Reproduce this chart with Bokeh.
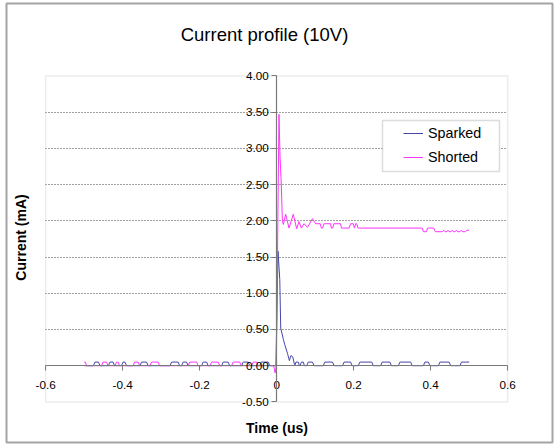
import math
from bokeh.plotting import figure
from bokeh.models import (Range1d, FixedTicker, Legend, LegendItem, Label,
                          BoxAnnotation, ColumnDataSource, CustomJSTickFormatter,
                          PrintfTickFormatter)
from bokeh.embed import file_html
from bokeh.resources import INLINE

# ---- data (time in us, current in mA) ----
sparked_t = [-0.500,
             -0.476, -0.472, -0.463, -0.459,
             -0.437, -0.433, -0.425, -0.421,
             -0.403, -0.399, -0.394, -0.390,
             -0.355, -0.351, -0.338, -0.334,
             -0.277, -0.273, -0.256, -0.252,
             -0.247, -0.243, -0.234, -0.230,
             -0.195, -0.191, -0.182, -0.178,
             -0.143, -0.139, -0.126, -0.122,
             -0.091, -0.087, -0.074, -0.070,
             -0.044, -0.040, -0.022, -0.018,
             -0.002, 0.000, 0.0035, 0.008, 0.0105, 0.0175, 0.021, 0.028,
             0.033, 0.037, 0.042, 0.046,
             0.047, 0.050, 0.056, 0.059,
             0.061, 0.064, 0.069, 0.072,
             0.078, 0.082, 0.093, 0.097,
             0.121, 0.125, 0.145, 0.149,
             0.171, 0.175, 0.192, 0.196,
             0.212, 0.216, 0.247, 0.251,
             0.270, 0.274, 0.294, 0.298,
             0.316, 0.320, 0.348, 0.352,
             0.381, 0.385, 0.394, 0.398,
             0.420, 0.424, 0.448, 0.452,
             0.476, 0.480, 0.500]
sparked_i = [0.00,
             0.00, 0.05, 0.05, 0.00,
             0.00, 0.05, 0.05, 0.00,
             0.00, 0.05, 0.05, 0.00,
             0.00, 0.05, 0.05, 0.00,
             0.00, 0.05, 0.05, 0.00,
             0.00, 0.05, 0.05, 0.00,
             0.00, 0.05, 0.05, 0.00,
             0.00, 0.05, 0.05, 0.00,
             0.00, 0.05, 0.05, 0.00,
             0.00, 0.05, 0.05, 0.00,
             0.00, 0.55, 1.58, 1.19, 0.52, 0.36, 0.29, 0.17,
             0.07, 0.14, 0.12, 0.02,
             0.00, 0.05, 0.05, 0.00,
             0.00, 0.05, 0.05, 0.00,
             0.00, 0.05, 0.05, 0.00,
             0.00, 0.05, 0.05, 0.00,
             0.00, 0.05, 0.05, 0.00,
             0.00, 0.05, 0.05, 0.00,
             0.00, 0.05, 0.05, 0.00,
             0.00, 0.05, 0.05, 0.00,
             0.00, 0.05, 0.05, 0.00,
             0.00, 0.05, 0.05, 0.00,
             0.00, 0.05, 0.05]

shorted_t = [-0.500, -0.497, -0.494,
             -0.455, -0.451, -0.442, -0.438,
             -0.420, -0.416, -0.412, -0.408,
             -0.373, -0.369, -0.360, -0.356,
             -0.329, -0.325, -0.308, -0.304,
             -0.230, -0.226, -0.208, -0.204,
             -0.173, -0.169, -0.152, -0.148,
             -0.117, -0.113, -0.096, -0.092,
             -0.065, -0.061, -0.052, -0.048,
             -0.008, -0.004, -0.001, 0.006, 0.0086, 0.012, 0.0148,
             0.0174, 0.0234, 0.032, 0.043, 0.052, 0.058, 0.064, 0.071,
             0.080, 0.093, 0.101, 0.113, 0.116, 0.119, 0.123, 0.140,
             0.142, 0.145, 0.149, 0.166, 0.168, 0.188, 0.192, 0.199,
             0.202, 0.205, 0.208, 0.211, 0.378, 0.381, 0.389, 0.392,
             0.408, 0.412, 0.430, 0.434, 0.437, 0.442, 0.445, 0.448,
             0.453, 0.456, 0.459, 0.464, 0.467, 0.470, 0.476, 0.479,
             0.482, 0.490, 0.494, 0.500]
shorted_i = [0.05, 0.05, 0.00,
             0.00, 0.05, 0.05, 0.00,
             0.00, 0.05, 0.05, 0.00,
             0.00, 0.05, 0.05, 0.00,
             0.00, 0.05, 0.05, 0.00,
             0.00, 0.05, 0.05, 0.00,
             0.00, 0.05, 0.05, 0.00,
             0.00, 0.05, 0.05, 0.00,
             0.00, 0.05, 0.05, 0.00,
             0.00, -0.10, 0.00, 3.47, 2.89, 2.50, 1.99,
             1.95, 2.09, 1.90, 2.09, 1.89, 1.99, 1.90, 1.96,
             1.91, 2.03, 1.96, 1.96, 1.90, 1.90, 1.96, 1.96,
             1.90, 1.90, 1.96, 1.96, 1.90, 1.90, 1.96, 1.96,
             1.90, 1.96, 1.96, 1.90, 1.90, 1.85, 1.85, 1.90,
             1.90, 1.85, 1.85, 1.87, 1.85, 1.85, 1.87, 1.85,
             1.85, 1.87, 1.85, 1.85, 1.87, 1.85, 1.85, 1.87,
             1.85, 1.85, 1.87, 1.87]

x_min, x_max = -0.6, 0.6
y_min, y_max = -0.5, 4.0
x_ticks = [-0.6, -0.4, -0.2, 0.0, 0.2, 0.4, 0.6]
y_ticks = [-0.5, 0.0, 0.5, 1.0, 1.5, 2.0, 2.5, 3.0, 3.5, 4.0]
grid_ticks = [0.5, 1.0, 1.5, 2.0, 2.5, 3.0, 3.5]

title_text = "Current profile (10V)"
x_title = "Time (us)"
y_title = "Current (mA)"
series_names = ["Sparked", "Shorted"]

FONT = "Liberation Sans"

# The frame spans the whole chart area; its outline is the chart border.
p = figure(title=None, frame_width=546, frame_height=439,
           min_border_left=6, min_border_right=3,
           min_border_top=3, min_border_bottom=2,
           x_range=Range1d(-0.7018, 0.7164), y_range=Range1d(-1.06, 5.0),
           output_backend="svg", toolbar_location=None,
           background_fill_color="white", border_fill_color="white")

p.outline_line_color = "#a4a4a4"
p.outline_line_width = 2

# plot-area border
p.add_layout(BoxAnnotation(left=x_min, right=x_max, bottom=y_min, top=y_max,
                           fill_alpha=0, line_color="#c4c4c4", line_width=1.5,
                           level="underlay"))

# axes crossing at zero
for ax in (p.xaxis[0], p.yaxis[0]):
    ax.fixed_location = 0
    ax.axis_line_color = "#7a7a7a"
    ax.axis_line_width = 1.2
    ax.major_tick_line_color = "#7a7a7a"
    ax.major_tick_out = 5
    ax.major_tick_in = 0
    ax.minor_tick_line_color = None
    ax.major_label_text_font = FONT
    ax.major_label_text_font_size = "11.7px"
    ax.major_label_text_color = "black"

p.xaxis[0].ticker = FixedTicker(ticks=x_ticks)
p.xaxis[0].bounds = (x_min, x_max)
p.xaxis[0].formatter = CustomJSTickFormatter(
    code="return Math.abs(tick) < 1e-9 ? '0' : tick.toFixed(1)")
p.xaxis[0].major_label_standoff = 10

p.yaxis[0].ticker = FixedTicker(ticks=y_ticks)
p.yaxis[0].bounds = (y_min, y_max)
p.yaxis[0].formatter = PrintfTickFormatter(format="%.2f")
p.yaxis[0].major_label_standoff = 3

p.xgrid.visible = False
p.ygrid.ticker = FixedTicker(ticks=grid_ticks)
p.ygrid.grid_line_color = "#404040"
p.ygrid.grid_line_dash = "1 2"
p.ygrid.grid_line_width = 1
try:
    p.ygrid.cross_bounds = (x_min, x_max)
except Exception:
    pass

# titles (canvas pixel placement)
p.add_layout(Label(x=264, y=34, x_units="canvas", y_units="canvas",
                   text=title_text, text_align="center", text_baseline="middle",
                   text_font=FONT, text_font_size="18.5px",
                   text_font_style="normal", text_color="black"))
p.add_layout(Label(x=276.5, y=427, x_units="canvas", y_units="canvas",
                   text=x_title, text_align="center", text_baseline="middle",
                   text_font=FONT, text_font_size="14px",
                   text_font_style="bold", text_color="black"))
p.add_layout(Label(x=20, y=237, x_units="canvas", y_units="canvas",
                   text=y_title, text_align="center", text_baseline="middle",
                   angle=math.pi / 2,
                   text_font=FONT, text_font_size="14px",
                   text_font_style="bold", text_color="black"))

# series
src_s = ColumnDataSource(data=dict(t=sparked_t, i=sparked_i))
src_h = ColumnDataSource(data=dict(t=shorted_t, i=shorted_i))
r_sp = p.line("t", "i", source=src_s, line_color="#4646aa", line_width=1)
r_sh = p.line("t", "i", source=src_h, line_color="#ff33ff", line_width=1)

# legend box
p.add_layout(BoxAnnotation(left=382, right=499, top=120, bottom=171,
                           left_units="canvas", right_units="canvas",
                           top_units="canvas", bottom_units="canvas",
                           fill_color="white", fill_alpha=1,
                           line_color="#8a8a8a", line_width=1.5))

legend = Legend(items=[LegendItem(label=series_names[0], renderers=[r_sp]),
                       LegendItem(label=series_names[1], renderers=[r_sh])],
                location=(397, 275), margin=0, padding=0, spacing=4,
                glyph_width=20, glyph_height=20, label_height=20,
                label_standoff=5, border_line_alpha=0,
                background_fill_alpha=0,
                label_text_font=FONT, label_text_font_size="14.3px",
                label_text_color="black")
p.add_layout(legend, "center")

open("out.html", "w").write(file_html(p, INLINE))
